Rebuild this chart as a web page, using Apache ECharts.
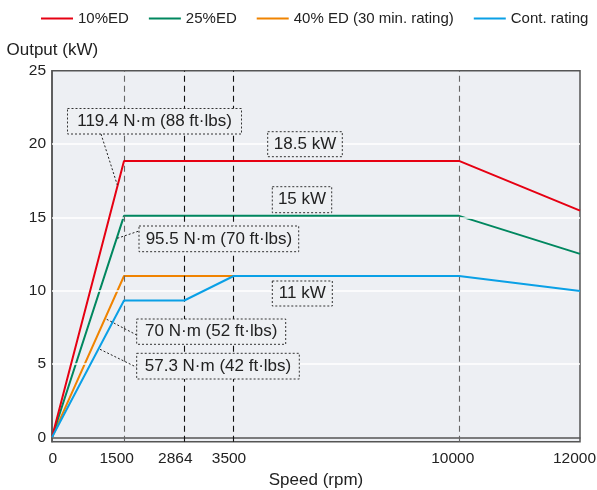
<!DOCTYPE html>
<html>
<head>
<meta charset="utf-8">
<script src="https://cdn.jsdelivr.net/npm/echarts@6/dist/echarts.min.js"></script>
<style>html,body{margin:0;padding:0;background:#fff;}#c{width:597px;height:490px;}</style>
</head>
<body>
<div id="c"></div>
<script>
// ---- data ----
const seriesNames = ['10%ED', '25%ED', '40% ED (30 min. rating)', 'Cont. rating'];
const speedTicks = [0, 1500, 2864, 3500, 10000, 12000];
const outputTicks = [0, 5, 10, 15, 20, 25];
const rpm10 = [0, 1500, 10000, 12000];
const kw10 = [0, 18.85, 18.85, 15.46];
const rpm25 = [0, 1500, 10000, 12000];
const kw25 = [0, 15.1, 15.1, 12.51];
const rpm40 = [0, 1500, 3500];
const kw40 = [0, 11.0, 11.0];
const rpmCont = [0, 1500, 2864, 3500, 10000, 12000];
const kwCont = [0, 9.33, 9.33, 11.0, 11.0, 9.97];
const refSpeeds = [1500, 2864, 3500, 10000];

// ---- layout (non-uniform speed axis of the original drawing) ----
const axisStops = [0, 72, 132.3, 181.7, 407, 528];      // axis units per tick
const labelStops = [0.8, 64.7, 123.3, 177, 400.7, 522.5]; // where tick texts sit
function warp(r) {
  for (let i = 1; i < speedTicks.length; i++) {
    if (r <= speedTicks[i]) {
      const a = speedTicks[i - 1], b = speedTicks[i];
      return axisStops[i - 1] + (r - a) / (b - a) * (axisStops[i] - axisStops[i - 1]);
    }
  }
  return axisStops[axisStops.length - 1];
}
function pts(xs, ys) { return xs.map((x, i) => [warp(x), ys[i]]); }

const FONT = "'Liberation Sans', Arial, sans-serif";
const colors = ['#e60012', '#00875f', '#f08300', '#0aa0e6'];

const chart = echarts.init(document.getElementById('c'), null, { renderer: 'canvas' });

const gridLines = outputTicks.filter(v => v > 0 && v < 25).map(v => ({ yAxis: v }));
const dashLines = refSpeeds.map((s, i) => ({
  xAxis: warp(s),
  lineStyle: { color: (s === 1500 || s === 10000) ? '#666' : '#111', width: 1.1, type: [6, 4] }
}));

function lineSeries(name, data, color, z) {
  return {
    name, type: 'line', data, symbol: 'none', z,
    lineStyle: { color, width: 2 }, itemStyle: { color },
    animation: false, silent: true
  };
}

function box(x, y, w, h, text) {
  return [
    { type: 'rect', shape: { x, y, width: w, height: h }, z: 50,
      style: { fill: '#eef0f3', stroke: '#333', lineWidth: 1, lineDash: [2, 2] } },
    { type: 'text', x: x + w / 2, y: y + h / 2, z: 51,
      style: { text, fill: '#222', font: '17px ' + FONT, align: 'center', verticalAlign: 'middle' } }
  ];
}
function leader(x1, y1, x2, y2) {
  return { type: 'line', shape: { x1, y1, x2, y2 }, z: 49,
    style: { stroke: '#222', lineWidth: 1, lineDash: [2, 2] } };
}

const option = {
  backgroundColor: '#ffffff',
  animation: false,
  textStyle: { fontFamily: FONT },
  legend: {
    data: seriesNames,
    left: 36, top: 6,
    icon: 'rect', itemWidth: 32, itemHeight: 2, itemGap: 20,
    textStyle: { fontSize: 15, color: '#222', fontFamily: FONT }
  },
  grid: {
    left: 52, right: 17, top: 70.7, bottom: 48.3,
    containLabel: false, outerBoundsMode: 'none',
    show: true, backgroundColor: '#edeff3', borderColor: '#555', borderWidth: 1.5
  },
  xAxis: {
    type: 'value', min: 0, max: 528,
    name: 'Speed (rpm)', nameLocation: 'middle', nameGap: 30,
    nameTextStyle: { fontSize: 17, color: '#222', fontFamily: FONT },
    axisLine: { show: true, lineStyle: { color: '#555', width: 1.5 } },
    axisTick: { show: false },
    splitLine: { show: false },
    axisLabel: {
      customValues: labelStops,
      fontSize: 15.5, color: '#222', fontFamily: FONT, margin: 9,
      formatter: v => {
        const i = labelStops.findIndex(p => Math.abs(p - v) < 0.01);
        return i >= 0 ? String(speedTicks[i]) : '';
      }
    }
  },
  yAxis: {
    type: 'value', min: -0.3, max: 25,
    axisLine: { show: true, lineStyle: { color: '#555', width: 1.5 } },
    axisTick: { show: false },
    splitLine: { show: false },
    axisLabel: {
      customValues: outputTicks,
      fontSize: 15.5, color: '#222', fontFamily: FONT, margin: 6,
      formatter: v => String(v)
    }
  },
  series: [
    {
      name: '_grid', type: 'line', data: [], z: 1, silent: true,
      markLine: { silent: true, symbol: 'none', label: { show: false }, animation: false,
        lineStyle: { color: '#ffffff', width: 1.5, type: 'solid' }, data: gridLines }
    },
    {
      name: '_ref', type: 'line', data: [], z: 2, silent: true,
      markLine: { silent: true, symbol: 'none', label: { show: false }, animation: false,
        data: dashLines }
    },
    lineSeries(seriesNames[2], pts(rpm40, kw40), colors[2], 3),
    lineSeries(seriesNames[1], pts(rpm25, kw25), colors[1], 4),
    lineSeries(seriesNames[0], pts(rpm10, kw10), colors[0], 5),
    lineSeries(seriesNames[3], pts(rpmCont, kwCont), colors[3], 6)
  ],
  graphic: [
    { type: 'text', x: 6.5, y: 50.7, z: 60,
      style: { text: 'Output (kW)', fill: '#222', font: '17px ' + FONT, align: 'left', verticalAlign: 'middle' } },
    leader(101, 134, 117.3, 185),
    leader(117.3, 238.3, 139, 231),
    leader(106.7, 319.3, 136.7, 335),
    leader(100, 349.3, 136.7, 367.3),
    ...box(67.5, 108.5, 174, 25.5, '119.4 N·m (88 ft·lbs)'),
    ...box(267.7, 131.7, 74.6, 25, '18.5 kW'),
    ...box(272.3, 186.7, 59.4, 26, '15 kW'),
    ...box(139, 226, 159.7, 25.7, '95.5 N·m (70 ft·lbs)'),
    ...box(272.3, 281, 60, 25, '11 kW'),
    ...box(136.7, 319, 149, 25.3, '70 N·m (52 ft·lbs)'),
    ...box(136.7, 353.3, 162.6, 25.7, '57.3 N·m (42 ft·lbs)')
  ]
};
chart.setOption(option);
</script>
</body>
</html>
